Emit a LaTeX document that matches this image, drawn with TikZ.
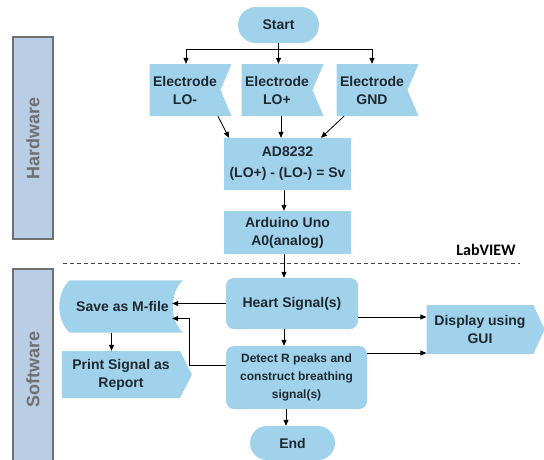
\documentclass[tikz,border=0pt]{standalone}
\usepackage{fontspec}
\setmainfont{Liberation Sans}
\newfontfamily\labfont{Carlito}
\usepackage{tikz}
\usetikzlibrary{shapes.misc,shapes.symbols,arrows.meta,positioning,calc,backgrounds}
\definecolor{boxblue}{RGB}{160,210,235}
\definecolor{barblue}{RGB}{185,205,229}
\definecolor{bargray}{RGB}{112,112,112}
\definecolor{txtdark}{RGB}{32,40,48}

\begin{document}
\begin{tikzpicture}[x=1pt, y=-1pt, >={Triangle[length=6pt,width=5pt]},
    every node/.style={font=\bfseries\fontsize{14}{18}\selectfont, text=txtdark, align=center, inner sep=0pt},
    term/.style={rounded rectangle, fill=boxblue},
    proc/.style={rectangle, fill=boxblue, minimum width=127pt},
    soft/.style={rectangle, rounded corners=8pt, fill=boxblue},
    elec/.style={signal, signal from=east, signal to=nowhere, signal pointer angle=134, fill=boxblue, minimum width=82pt, minimum height=52pt},
    outp/.style={signal, signal to=east, fill=boxblue},
    bar/.style={rectangle, rotate=90, draw=bargray, line width=1.5pt, fill=barblue, minimum height=40pt, text=bargray, font=\bfseries\fontsize{18}{20}\selectfont},
    link/.style={->, line width=0.8pt}]
    \useasboundingbox (0,0) rectangle (544,459);

    % Sidebars
    \node [bar, minimum width=202pt] (hw) at (33,138) {Hardware};
    \node [bar, minimum width=201pt] (sw) at (33,369.5) {Software};

    % Hardware
    \node [term, minimum width=81pt, minimum height=36pt] (start) at (278.5,25) {Start};
    \foreach \name/\x/\txt in {lom/185/LO-, lop/277/LO+, gnd/372/GND} {
        \node [elec] (\name) at (\x,90) {Electrode\\\txt};
    }
    \node [proc, minimum height=52pt, font=\bfseries\fontsize{14}{21}\selectfont] (ad) at (287.5,164) {AD8232\\(LO+) - (LO-) = Sv};
    \node [proc, minimum height=43pt] (ard) at (287.5,232.5) {Arduino Uno\\A0(analog)};

    \draw [link] (start) -- (start |- lop.north);
    \draw [link] ([yshift=-6pt]start.south) -| ([xshift=1pt]lom.north);
    \draw [link] ([yshift=-6pt]start.south) -| (gnd.north);
    \draw [link] ([xshift=33pt]lom.south) -- ([xshift=-58.5pt]ad.north);
    \draw [link] ([xshift=4pt]lop.south) -- ([xshift=-6.5pt]ad.north);
    \draw [link] ([xshift=-28pt]gnd.south) -- ([xshift=33.5pt]ad.north);
    \draw [link] ([xshift=-3.5pt]ad.south) -- ([xshift=-3.5pt]ard.north);

    % LabVIEW border
    \coordinate (sepL) at (63,263);
    \coordinate (sepR) at (520,263);
    \draw [dash pattern=on 4pt off 3pt, line width=0.6pt, black!75] (sepL) -- (sepR);
    \node [font=\labfont\bfseries\fontsize{16}{18}\selectfont, text=black] (lab) at (486,250) {LabVIEW};

    % Software
    \node [soft, minimum width=132pt, minimum height=51pt] (heart) at (292,303.5) {Heart Signal(s)};
    \node [soft, minimum width=141pt, minimum height=63pt, font=\bfseries\fontsize{12}{18}\selectfont] (det) at (296.5,377.5) {Detect R peaks and\\construct breathing\\signal(s)};
    \node [term, minimum width=85pt, minimum height=34pt] (stop) at (292.5,443) {End};
    \node [minimum width=121pt, minimum height=52pt] (save) at (122.5,306.5) {Save as M-file};
    \begin{scope}[on background layer]
        \fill [boxblue] ([xshift=8pt]save.north west) -- (save.north east)
            .. controls ([xshift=-14pt,yshift=-12pt]save.north east) and ([xshift=-14pt,yshift=12pt]save.south east) .. (save.south east)
            -- ([xshift=8pt]save.south west)
            .. controls ([xshift=-6pt,yshift=12pt]save.south west) and ([xshift=-6pt,yshift=-12pt]save.north west) .. cycle;
    \end{scope}
    \coordinate (savein) at ([xshift=-11pt]save.east);
    \node [outp, signal pointer angle=126, minimum width=130pt, minimum height=47pt] (print) at (121,374.5) {Print Signal as\\Report};
    \node [outp, signal pointer angle=131, minimum width=118pt, minimum height=49pt] (disp) at (480,329.5) {Display using\\GUI};

    \draw [link] ([xshift=-3.5pt]ard.south) -- ([xshift=-3.5pt]ard.south |- heart.north);
    \draw [link] ([xshift=-8pt]heart.south) -- ([xshift=-8pt]heart.south |- det.north);
    \draw [link] ([xshift=-10.5pt]det.south) -- ([xshift=-10.5pt]det.south |- stop.north);
    \draw [link] (heart.west) -- (heart.west -| savein);
    \draw [link] ([yshift=12pt]det.west) -- ++(-36,0) |- ([yshift=-12pt]savein);
    \draw [link] ([xshift=-11pt]save.south) -- ([xshift=-11pt]save.south |- print.north);
    \draw [link] ([yshift=-13.5pt]heart.east) -- ([yshift=-13.5pt]heart.east -| disp.west);
    \draw [link] ([yshift=24.5pt]det.east) -- ([yshift=24.5pt]det.east -| disp.west);
\end{tikzpicture}
\end{document}
